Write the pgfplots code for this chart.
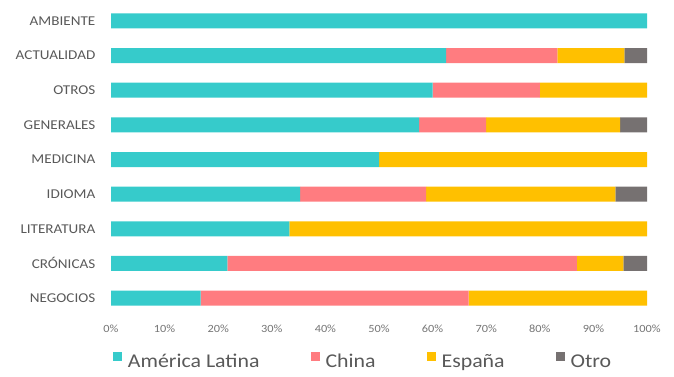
\documentclass[border=0pt]{standalone}
\usepackage{fontspec}
\setmainfont{Carlito}[FakeStretch=1.12]
\usepackage{pgfplots}
\pgfplotsset{compat=1.18}
\definecolor{cLat}{HTML}{36CBCB}
\definecolor{cChi}{HTML}{FF7C80}
\definecolor{cEsp}{HTML}{FFC000}
\definecolor{cOtr}{HTML}{767171}
\definecolor{txt}{HTML}{595959}
\definecolor{tick}{HTML}{757575}
\begin{document}
\begin{tikzpicture}
\useasboundingbox (0,0) rectangle (674bp,377bp);
\begin{axis}[
  at={(111bp,58.2bp)}, anchor=south west,
  scale only axis, width=536bp, height=318.6bp,
  xbar stacked, bar width=15bp,
  xmin=0, xmax=100, ymin=-0.6, ymax=8.6, y dir=reverse,
  axis line style={draw=none}, major tick length=0pt,
  xtick={0,10,...,100},
  xticklabel={\pgfmathprintnumber{\tick}\%},
  /pgf/number format/assume math mode=true,
  xticklabel style={font=\fontsize{11bp}{13bp}\selectfont, text=tick, anchor=center, inner sep=0pt, yshift=-9.5bp},
  ytick={0,...,8},
  yticklabels={AMBIENTE,ACTUALIDAD,OTROS,GENERALES,MEDICINA,IDIOMA,LITERATURA,CRÓNICAS,NEGOCIOS},
  yticklabel style={font=\fontsize{13.5bp}{16bp}\selectfont, text=txt, anchor=east, inner sep=0pt, xshift=-15.5bp},
  every axis plot/.append style={draw=none},
  legend columns=4,
  legend image code/.code={\path[#1, draw=none] (0bp,0.5bp) rectangle (9bp,9.5bp);},
  legend style={at={(0.0037,-0.1277)}, anchor=west, draw=none, fill=none, inner sep=0pt, outer sep=0pt,
    font=\fontsize{19.5bp}{22bp}\selectfont, text=txt,
    nodes={inner sep=0pt, text height=12.6bp, text depth=0pt},
    /tikz/every odd column/.append style={column sep=6bp},
    /tikz/every even column/.append style={column sep=51bp}},
]
\addplot[fill=cLat] coordinates {(100,0) (62.5,1) (60,2) (57.5,3) (50,4) (35.3,5) (33.3,6) (21.7,7) (16.7,8)};
\addplot[fill=cChi] coordinates {(0,0) (20.8,1) (20,2) (12.5,3) (0,4) (23.5,5) (0,6) (65.2,7) (50,8)};
\addplot[fill=cEsp] coordinates {(0,0) (12.5,1) (20,2) (25,3) (50,4) (35.3,5) (66.7,6) (8.7,7) (33.3,8)};
\addplot[fill=cOtr] coordinates {(0,0) (4.2,1) (0,2) (5,3) (0,4) (5.9,5) (0,6) (4.4,7) (0,8)};
\legend{América Latina, China, España, Otro}
\end{axis}
\end{tikzpicture}
\end{document}
